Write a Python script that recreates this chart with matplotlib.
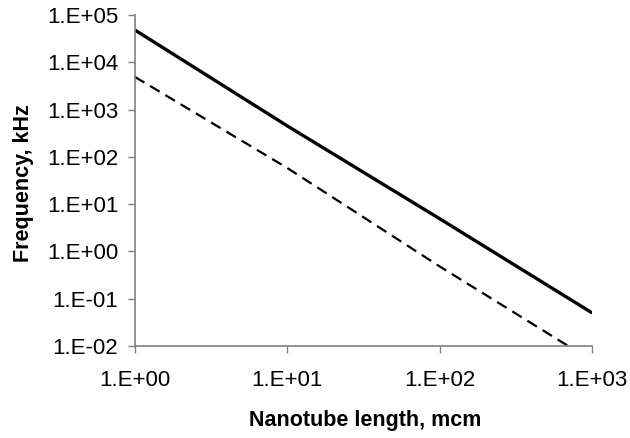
"""Log-log plot of nanotube resonance frequency vs length."""

import matplotlib

matplotlib.use("Agg")
import matplotlib.pyplot as plt
import numpy as np
from matplotlib.ticker import FixedLocator, FuncFormatter

# solid curve
length_solid = [1, 10, 100, 1000]
freq_solid = [4.8e4, 450, 4.9, 0.05]

# dashed curve
length_dashed = [1, 10, 100, 711]
freq_dashed = [4900, 58, 0.48, 0.0096]

x_ticks = [1, 10, 100, 1000]
y_ticks = [1e-2, 1e-1, 1, 10, 100, 1e3, 1e4, 1e5]

plt.rcParams["font.family"] = ["Liberation Sans", "DejaVu Sans"]


def excel_sci(v, _pos):
    exp = int(round(np.log10(v)))
    sign = "+" if exp >= 0 else "-"
    return f"1.E{sign}{abs(exp):02d}"


fig = plt.figure(figsize=(6.3, 4.38), dpi=100)
ax = fig.add_axes([0.214, 0.21, 0.726, 0.756])

ax.plot(length_solid, freq_solid, color="black", linewidth=2.4, solid_capstyle="butt")
ax.plot(length_dashed, freq_dashed, color="black", linewidth=1.6, dashes=(5, 3))

ax.set_xscale("log")
ax.set_yscale("log")
ax.set_xlim(1, 1000)
ax.set_ylim(1e-2, 1e5)
ax.xaxis.set_major_locator(FixedLocator(x_ticks))
ax.yaxis.set_major_locator(FixedLocator(y_ticks))
ax.xaxis.set_minor_locator(FixedLocator([]))
ax.yaxis.set_minor_locator(FixedLocator([]))
ax.xaxis.set_major_formatter(FuncFormatter(excel_sci))
ax.yaxis.set_major_formatter(FuncFormatter(excel_sci))

for side in ("top", "right"):
    ax.spines[side].set_visible(False)
for side in ("left", "bottom"):
    ax.spines[side].set_color("#808080")
    ax.spines[side].set_linewidth(1.2)
ax.tick_params(direction="out", length=5, width=1.0, color="#808080", labelsize=16)
ax.tick_params(axis="y", pad=7)
ax.tick_params(axis="x", pad=12)

fig.text(0.58, 0.040, "Nanotube length, mcm", fontsize=15.5, fontweight="bold",
         ha="center", va="center")
fig.text(0.038, 0.582, "Frequency, kHz", fontsize=15.5, fontweight="bold",
         ha="center", va="center", rotation=90)

fig.savefig("out.png", dpi=100)
